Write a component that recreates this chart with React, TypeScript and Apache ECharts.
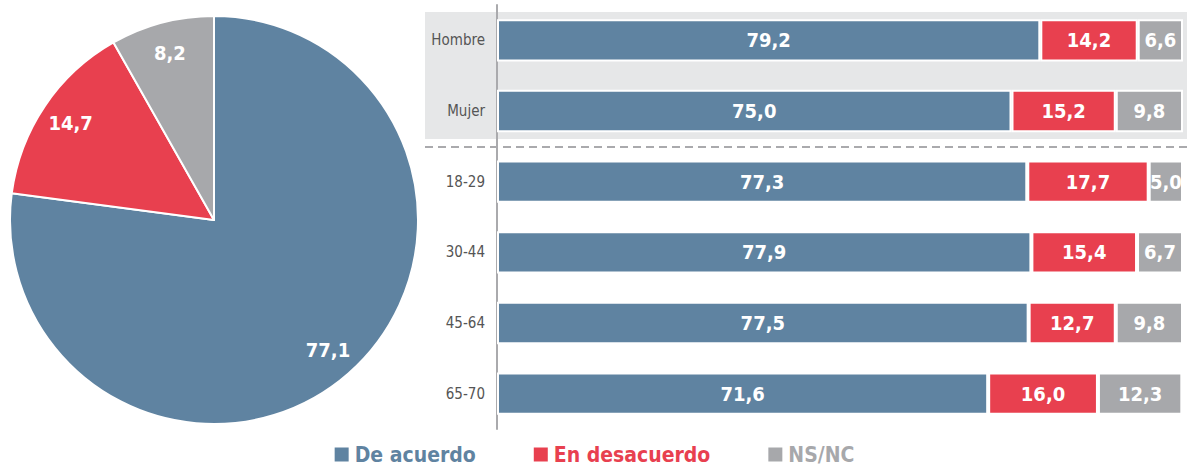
import React, { useEffect, useRef } from "react";
import * as echarts from "echarts";

const seriesNames = ["De acuerdo", "En desacuerdo", "NS/NC"];
const colors = ["#5f83a1", "#e8404f", "#a7a8ab"];
const pieValues = [77.1, 14.7, 8.2];
const categories = ["Hombre", "Mujer", "18-29", "30-44", "45-64", "65-70"];
const deAcuerdo = [79.2, 75.0, 77.3, 77.9, 77.5, 71.6];
const enDesacuerdo = [14.2, 15.2, 17.7, 15.4, 12.7, 16.0];
const nsnc = [6.6, 9.8, 5.0, 6.7, 9.8, 12.3];

const FONT = "'Liberation Sans Narrow', 'DejaVu Sans Condensed', 'Roboto', sans-serif";
const fmt = (v: number) => v.toFixed(1).replace(".", ",");

export default function App() {
  const ref = useRef<HTMLDivElement>(null);
  useEffect(() => {
    document.body.style.margin = "0";
    const chart = echarts.init(ref.current!, null, { renderer: "svg" });
    const barData = [deAcuerdo, enDesacuerdo, nsnc];
    const option: any = {
      animation: false,
      textStyle: { fontFamily: FONT },
      graphic: [
        { type: "rect", z: -10, shape: { x: 425, y: 12, width: 762, height: 127 }, style: { fill: "#e6e7e8" } },
        { type: "line", z: -10, shape: { x1: 425, y1: 147, x2: 1187, y2: 147 }, style: { stroke: "#aaaaad", lineWidth: 2, lineDash: [8, 5] } },
      ],
      legend: {
        left: "center",
        top: 444,
        icon: "rect",
        itemWidth: 16,
        itemHeight: 16,
        itemGap: 56,
        padding: 0,
        data: seriesNames.map((n, i) => ({
          name: n,
          itemStyle: { color: colors[i] },
          textStyle: { color: colors[i], fontSize: 21, lineHeight: 21, fontWeight: "bold", fontFamily: FONT },
        })),
      },
      grid: { left: 497, top: 5, width: 686, height: 424, containLabel: false },
      xAxis: { type: "value", min: 0, max: 100, show: false },
      yAxis: {
        type: "category",
        inverse: true,
        data: categories,
        axisLine: { lineStyle: { color: "#aaaaad", width: 2 } },
        axisTick: { length: 7, lineStyle: { color: "#aaaaad", width: 1.5 } },
        axisLabel: { color: "#555", fontSize: 15, margin: 12, fontFamily: FONT },
      },
      series: [
        {
          type: "pie",
          name: "pie",
          center: [214, 220],
          radius: [0, 204],
          startAngle: 90,
          label: { show: false },
          labelLine: { show: false },
          itemStyle: { borderColor: "#fff", borderWidth: 2 },
          data: pieValues.map((v, i) => ({ name: seriesNames[i], value: v, itemStyle: { color: colors[i] } })),
        },
        {
          type: "pie",
          name: "pieLabels",
          center: [214, 220],
          radius: [136, 204],
          startAngle: 90,
          silent: true,
          legendHoverLink: false,
          label: {
            show: true,
            position: "inside",
            color: "#fff",
            fontSize: 20,
            fontWeight: "bold",
            fontFamily: FONT,
            formatter: (p: any) => fmt(p.value),
          },
          labelLine: { show: false },
          itemStyle: { color: "rgba(0,0,0,0)", borderWidth: 0 },
          data: pieValues.map((v, i) => ({ name: seriesNames[i], value: v, itemStyle: { color: "rgba(0,0,0,0)" } })),
        },
        ...barData.map((d, i) => ({
          type: "bar",
          name: seriesNames[i],
          stack: "total",
          barWidth: "60%",
          itemStyle: { color: colors[i], borderColor: "#fff", borderWidth: 2 },
          label: {
            show: true,
            position: "inside",
            color: "#fff",
            fontSize: 20,
            fontWeight: "bold",
            fontFamily: FONT,
            formatter: (p: any) => fmt(p.value),
          },
          data: d,
        })),
      ],
    };
    chart.setOption(option);
    return () => chart.dispose();
  }, []);
  return <div ref={ref} style={{ width: 1187, height: 466 }} />;
}
